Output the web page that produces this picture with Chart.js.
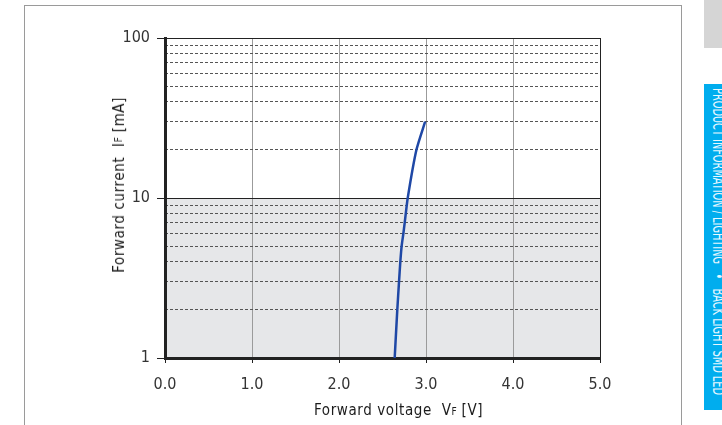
<!DOCTYPE html>
<html>
<head>
<meta charset="utf-8">
<script src="https://cdn.jsdelivr.net/npm/chart.js@4.4.0/dist/chart.umd.min.js"></script>
<style>
  body { margin: 0; width: 722px; height: 425px; overflow: hidden; background: #fff; position: relative;
         font-family: "DejaVu Sans Condensed", "DejaVu Sans", sans-serif; }
  #frame { position: absolute; left: 24px; top: 5px; width: 656px; height: 440px; border: 1px solid #9a9a9a; }
  #chart { position: absolute; left: 0; top: 0; }
  .title { position: absolute; font-size: 15px; color: #1c1c1c; letter-spacing: 0.6px; white-space: nowrap; }
  .title small { font-size: 10px; letter-spacing: 0; }
  #xTitle { left: 314px; top: 401px; }
  #yTitle { left: 110px; top: 97px; writing-mode: vertical-rl; transform: rotate(180deg); }
  #tab { position: absolute; left: 704px; top: 0; width: 18px; height: 48px; background: #d5d5d5; }
  #strip { position: absolute; left: 704px; top: 84px; width: 18px; height: 326px; background: #00adee; }
  #stripText { position: absolute; left: 709px; top: 88px; color: #e8f7ff; writing-mode: vertical-rl;
               font-size: 15px; line-height: 18px; white-space: nowrap; transform-origin: top left; }
</style>
</head>
<body>
<div id="frame"></div>
<canvas id="chart" width="722" height="425"></canvas>
<div class="title" id="xTitle">Forward voltage&nbsp; V<small>F</small> [V]</div>
<div class="title" id="yTitle">Forward current&nbsp; I<small>F</small> [mA]</div>
<div id="tab"></div>
<div id="strip"></div>
<div id="stripText">PRODUCT INFORMATION / LIGHTING &nbsp;&nbsp;•&nbsp;&nbsp; BACK LIGHT SMD LED</div>
<script>
// forward voltage (V) vs forward current (mA)
var voltage = [2.64, 2.67, 2.69, 2.705, 2.72, 2.74, 2.755, 2.79, 2.89, 2.99];
var current = [1, 2, 3, 4, 5, 6, 7, 10, 20, 30];

var xTicks = [0, 1, 2, 3, 4, 5];
var yMajor = [1, 10, 100];
var yMinor = [2, 3, 4, 5, 6, 7, 8, 9, 20, 30, 40, 50, 60, 70, 80, 90];
var bandLow = 1, bandHigh = 10;

var points = [];
for (let i in voltage) {
    points.push({x: voltage[i], y: current[i]});
}

// squeeze the side label to the length of the strip
var st = document.getElementById('stripText');
st.style.transform = 'scaleY(' + (307 / st.getBoundingClientRect().height) + ')';

var fontFamily = '"DejaVu Sans Condensed", "DejaVu Sans", sans-serif';

var bandPlugin = {
    id: 'band',
    beforeDraw: function (chart) {
        var ctx = chart.ctx;
        var area = chart.chartArea;
        var y = chart.scales.y;
        var top = y.getPixelForValue(bandHigh);
        var bottom = y.getPixelForValue(bandLow);
        ctx.save();
        ctx.fillStyle = '#e6e7e9';
        ctx.fillRect(area.left, top, area.right - area.left, bottom - top);
        ctx.restore();
    }
};

var ivChart = new Chart(document.getElementById('chart'), {
    type: 'line',
    data: {
        datasets: [{
            data: points,
            borderColor: '#1f48a6',
            borderWidth: 2.5,
            pointRadius: 0,
            tension: 0.2,
            fill: false,
            yAxisID: 'y'
        }]
    },
    options: {
        responsive: false,
        animation: false,
        layout: {padding: {left: 100, top: 38, right: 122, bottom: 27}},
        plugins: {legend: {display: false}, tooltip: {enabled: false}},
        scales: {
            x: {
                type: 'linear',
                min: 0,
                max: 5,
                afterBuildTicks: function (scale) {
                    scale.ticks = xTicks.map(function (v) { return {value: v}; });
                },
                afterFit: function (scale) { scale.height = 40; },
                ticks: {
                    color: '#333',
                    padding: 12,
                    font: {family: fontFamily, size: 16},
                    callback: function (v) { return Number(v).toFixed(1); }
                },
                grid: {
                    color: function (c) {
                        if (c.tick && c.tick.value === 0) return 'rgba(0,0,0,0)';
                        if (c.tick && c.tick.value === 5) return '#222';
                        return '#9b9b9b';
                    },
                    tickColor: '#222',
                    tickLength: 5,
                    lineWidth: 1
                },
                border: {color: '#222', width: 3}
            },
            y: {
                type: 'logarithmic',
                position: 'left',
                min: 1,
                max: 100,
                afterBuildTicks: function (scale) {
                    scale.ticks = yMajor.map(function (v) { return {value: v}; });
                },
                afterFit: function (scale) { scale.width = 65; },
                ticks: {
                    color: '#333',
                    padding: 7,
                    font: {family: fontFamily, size: 16},
                    callback: function (v) { return String(v); }
                },
                grid: {
                    color: function (c) {
                        if (c.tick && c.tick.value === 1) return 'rgba(0,0,0,0)';
                        return '#222';
                    },
                    tickColor: '#222',
                    tickLength: 8,
                    lineWidth: 1
                },
                border: {color: '#222', width: 3}
            },
            yMinor: {
                type: 'logarithmic',
                position: 'left',
                min: 1,
                max: 100,
                afterBuildTicks: function (scale) {
                    scale.ticks = yMinor.map(function (v) { return {value: v}; });
                },
                afterFit: function (scale) { scale.width = 0; },
                ticks: {display: false},
                grid: {color: '#555', lineWidth: 1, drawTicks: false},
                border: {display: false, dash: [3, 2]}
            }
        }
    },
    plugins: [bandPlugin]
});
</script>
</body>
</html>
